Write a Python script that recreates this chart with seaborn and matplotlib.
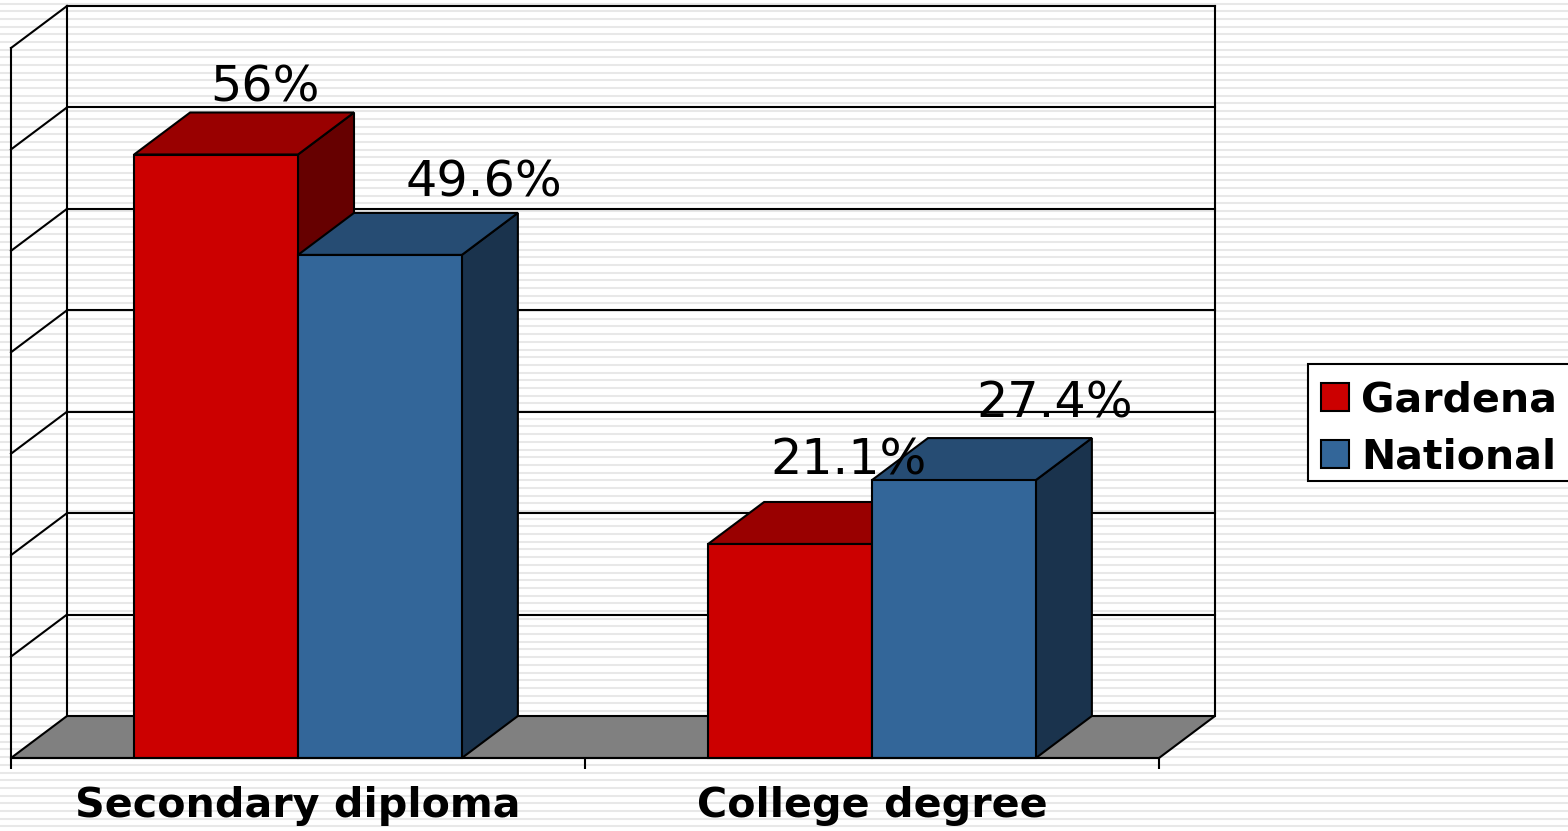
import matplotlib
matplotlib.use("Agg")
import matplotlib.pyplot as plt
from matplotlib.patches import Polygon, Rectangle
import numpy as np
import pandas as pd
import seaborn as sns

categories = ["Secondary diploma", "College degree"]
series_names = ["Gardena", "National"]
# the 56% bar is drawn taller than its label says, same as the original chart
gardena = [59.5, 21.1]
national = [49.6, 27.4]
gardena_labels = ["56%", "21.1%"]
national_labels = ["49.6%", "27.4%"]
grid_values = [0, 10, 20, 30, 40, 50, 60, 70]

W, H = 1568, 831
front_colors = {"Gardena": "#CC0000", "National": "#336699"}
top_colors = {"Gardena": "#990000", "National": "#264C73"}
side_colors = {"Gardena": "#660000", "National": "#1A334D"}

df = pd.DataFrame({
    "category": categories * 2,
    "series": [series_names[0]] * 2 + [series_names[1]] * 2,
    "value": gardena + national,
})

sns.set_style("white")
plt.rcParams["font.family"] = ["DejaVu Sans"]
plt.rcParams["text.color"] = "black"
plt.rcParams["xtick.color"] = "black"
fig = plt.figure(figsize=(W / 100, H / 100), dpi=100, facecolor="white")

# striped slide background
bg = fig.add_axes([0, 0, 1, 1], zorder=0)
bg.set_xlim(0, W)
bg.set_ylim(H, 0)
bg.axis("off")
bg.hlines(np.arange(3.5, H, 7.69), 0, W, color="#E8E8E8", linewidth=1.5)
# legend box sits on the background, legend itself has no frame
bg.add_patch(Rectangle((1308, 364), 262, 117, facecolor="white", edgecolor="black",
                       linewidth=1.5, zorder=3))

# front plane of the 3d box, in pixels
left, right, base, top = 11, 1159, 758, 48
ax = fig.add_axes([left / W, 1 - base / H, (right - left) / W, (base - top) / H], zorder=1)
ax.patch.set_alpha(0)

sns.barplot(data=df, x="category", y="value", hue="series", order=categories,
            hue_order=series_names, palette=front_colors, saturation=1,
            width=0.571, gap=0, edgecolor="black", linewidth=1.5, ax=ax)

ax.set_xlim(-0.5, 1.5)
ax.set_ylim(0, 70)

# depth of the fake 3d, converted to data units
dx = 56 / ((right - left) / 2)
dy = 42 / ((base - top) / 70)

x0, x1 = ax.get_xlim()
line_kw = dict(color="black", linewidth=1.5, clip_on=False, solid_capstyle="projecting")

floor = Polygon([(x0, 0), (x0 + dx, dy), (x1 + dx, dy), (x1, 0)], closed=True,
                facecolor="#808080", edgecolor="black", linewidth=1.5, clip_on=False, zorder=1)
ax.add_patch(floor)

for g in grid_values[1:]:
    ax.plot([x0, x0 + dx], [g, g + dy], zorder=0.5, **line_kw)
    ax.plot([x0 + dx, x1 + dx], [g + dy, g + dy], zorder=0.5, **line_kw)
ax.plot([x0 + dx, x0 + dx], [dy, 70 + dy], zorder=0.5, **line_kw)
ax.plot([x1 + dx, x1 + dx], [dy, 70 + dy], zorder=0.5, **line_kw)

# extrude each seaborn bar, left to right so the neighbours overlap properly
bars = []
for cont, name in zip(ax.containers, series_names):
    for bar in cont:
        bars.append((bar, name))
bars.sort(key=lambda b: b[0].get_x())

for i, (bar, name) in enumerate(bars):
    bx0 = bar.get_x()
    bx1 = bx0 + bar.get_width()
    h = bar.get_height()
    z = 2 + i
    ax.add_patch(Polygon([(bx1, 0), (bx1 + dx, dy), (bx1 + dx, h + dy), (bx1, h)], closed=True,
                         facecolor=side_colors[name], edgecolor="black", linewidth=1.5,
                         clip_on=False, zorder=z))
    ax.add_patch(Polygon([(bx0, h), (bx0 + dx, h + dy), (bx1 + dx, h + dy), (bx1, h)], closed=True,
                         facecolor=top_colors[name], edgecolor="black", linewidth=1.5,
                         clip_on=False, zorder=z))
    bar.set_zorder(z + 0.5)
    bar.set_clip_on(False)

# value labels, offsets in pixels from the bar top centre
label_offsets = {
    "56%": (49, 53),
    "49.6%": (104, 58),
    "21.1%": (59, 69),
    "27.4%": (101, 63),
}
all_labels = {"Gardena": gardena_labels, "National": national_labels}
for cont, name in zip(ax.containers, series_names):
    for bar, lab in zip(cont, all_labels[name]):
        off = label_offsets[lab]
        ax.annotate(lab, (bar.get_x() + bar.get_width() / 2, bar.get_height()),
                    xytext=off, textcoords="offset pixels", ha="center", va="baseline",
                    fontsize=35.5, color="black", zorder=20, annotation_clip=False)

sns.despine(ax=ax, top=True, right=True)
for s in ["left", "bottom"]:
    ax.spines[s].set_linewidth(1.5)
    ax.spines[s].set_color("black")
    ax.spines[s].set_zorder(15)

ax.set_xlabel("")
ax.set_ylabel("")
ax.set_yticks([])
ax.set_xticks([-0.5, 0.5, 1.5])
ax.set_xticklabels([])
ax.set_xticks([0, 1], minor=True)
ax.set_xticklabels(categories, minor=True, fontsize=29.7, fontweight="bold", color="black")
ax.tick_params(axis="x", which="major", length=8, width=1.5, color="black", bottom=True, direction="out")
ax.tick_params(axis="x", which="minor", length=0, pad=20, bottom=True)

leg = ax.legend(loc="center right", bbox_to_anchor=(1557 / W, 1 - 429 / H),
                bbox_transform=fig.transFigure, frameon=False,
                prop={"size": 29.5, "weight": "bold"}, handlelength=0.67, handleheight=0.67,
                handletextpad=0.3, labelspacing=0.42, borderpad=0, borderaxespad=0)
for t in leg.get_texts():
    t.set_color("black")
leg.set_zorder(30)

fig.savefig("out.png", dpi=100)
